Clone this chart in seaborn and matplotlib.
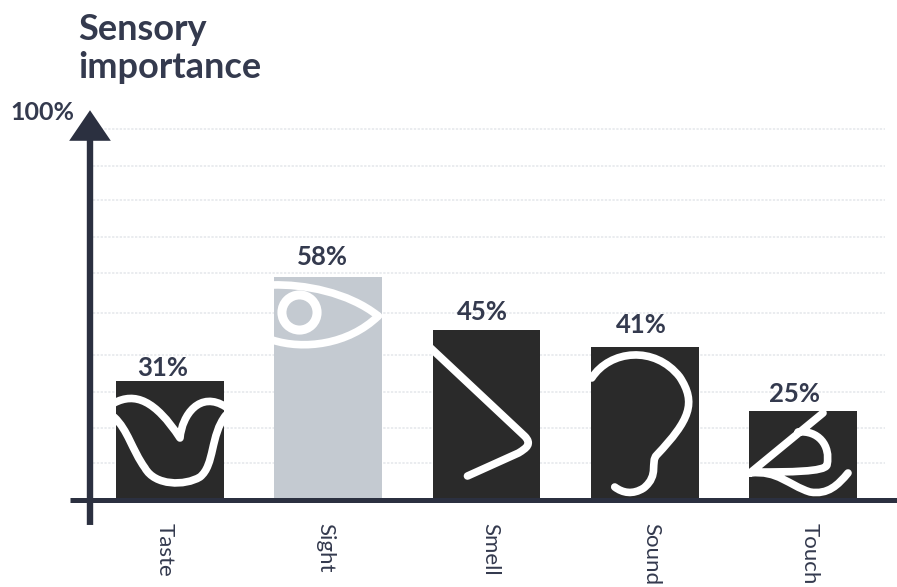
import matplotlib
matplotlib.use('Agg')
import matplotlib.pyplot as plt
import pandas as pd
import seaborn as sns
from matplotlib.patches import PathPatch
from matplotlib.path import Path

senses = ['Taste', 'Sight', 'Smell', 'Sound', 'Touch']
labels = ['31%', '58%', '45%', '41%', '25%']
# bar heights as they are printed, the scale is a bit loose in the original
heights = [31, 58, 44.3, 39.8, 23.2]
grid_levels = [96.6, 87, 78, 68.5, 59, 48.7, 37.8, 28, 18.8, 9.6]

INK = '#2a2a2a'
TEXT = '#343a4e'
AXIS = '#2b3040'
PALE = '#c4cad1'

# hand set text nudges in pixels, the labels are not centred in the original
value_dx = [-7, -6, -4, -3, -8]
value_gap = [5, 12, 10, 14, 9]
name_dx = [-5, -3, 4, 7, 7]

M, L, C = Path.MOVETO, Path.LINETO, Path.CURVE4

# pictograms, in pixels from the bar centre and the baseline
taste = [(M, -56, 97), (C, -35, 108), (C, -15, 100), (C, 10, 62),
         (C, 12, 85), (C, 30, 110), (C, 56, 93),
         (M, -56, 83), (C, -42, 70), (C, -38, 50), (C, -25, 32),
         (C, -15, 14), (C, 15, 14), (C, 30, 23),
         (C, 45, 35), (C, 40, 65), (C, 56, 85)]
smell = [(M, -58, 154), (L, 38, 64), (C, 46, 56), (C, 40, 52), (C, 32, 47), (L, -19, 24)]
sound = [(M, -53, 122), (C, -35, 150), (C, 10, 155), (C, 35, 123),
         (C, 52, 97), (C, 45, 80), (C, 12, 45),
         (C, 5, 38), (C, 15, 25), (C, -1, 12), (L, -1, 12), (C, -12, 5), (C, -22, 7), (C, -30, 13)]
touch = [(M, 20, 87), (L, -53, 27),
         (M, -5, 68), (C, 15, 70), (C, 28, 55), (C, 24, 35),
         (C, 22, 28), (C, -15, 28), (C, -45, 28),
         (M, -53, 27), (C, -25, 30), (C, -15, 15), (C, 7, 8),
         (C, 25, 5), (C, 35, 15), (C, 45, 27)]
eye_upper = [(M, -56, 215), (C, -25, 216), (C, 20, 208), (C, 50, 184)]
eye_lower = [(M, -56, 160), (C, -25, 150), (C, 20, 155), (C, 50, 184)]
icons = [[taste], [eye_upper, eye_lower], [smell], [sound], [touch]]

fig = plt.figure(figsize=(8.97, 5.87), dpi=100)
ax = fig.add_axes([90 / 897, 87 / 587, 807 / 897, 384 / 587])

plt.rcParams['font.family'] = ['Lato', 'DejaVu Sans']

df = pd.DataFrame({'sense': senses, 'height': heights})
sns.barplot(data=df, x='sense', y='height', hue='sense', palette=[INK, PALE, INK, INK, INK],
            width=0.68, legend=False, saturation=1, ax=ax, zorder=2)

x_min, x_max = -0.5055, 4.594
ax.set_xlim(x_min, x_max)
ax.set_ylim(0, 100)
sx = 158.25
sy = 3.84


def to_data(x0, dx, dy):
    return (x0 + dx / sx, dy / sy)


for y in grid_levels:
    ax.plot([x_min + 0.02, 4.52], [y, y], color='#c9cfd6', lw=1.1, ls=(0, (1.5, 1)), alpha=0.5, zorder=1)

for i, sense in enumerate(senses):
    ax.text(i + value_dx[i] / sx, heights[i] + value_gap[i] / sy, labels[i], ha='center', va='baseline',
            fontsize=18.5, fontweight='bold', color=TEXT)
    ax.text(i + name_dx[i] / sx, -6, sense, rotation=270, ha='center', va='top',
            fontsize=16, color=TEXT, clip_on=False)
    for shape in icons[i]:
        codes = [p[0] for p in shape]
        verts = [to_data(i, p[1], p[2]) for p in shape]
        patch = PathPatch(Path(verts, codes), fc='none', ec='white', lw=5.5, capstyle='round',
                          joinstyle='round', zorder=3)
        ax.add_patch(patch)
        patch.set_clip_path(ax.patches[i])

# iris of the eye on the pale bar
iris_x, iris_y = to_data(1, -29, 188)
ax.scatter([iris_x], [iris_y], s=640, facecolor=PALE, edgecolor='white', lw=6.5, zorder=3)

sns.despine(ax=ax, left=True, bottom=True)
ax.set_xticks([])
ax.set_yticks([])
ax.set_xlabel('')
ax.set_ylabel('')
ax.patch.set_alpha(0)

# axes with the arrow
ax.plot([x_min - 0.127, x_max], [0, 0], color=AXIS, lw=3.6, clip_on=False, zorder=4, solid_capstyle='butt')
ax.annotate('', xy=(x_min, 101.5), xytext=(x_min, -6.5), annotation_clip=False, zorder=4,
            arrowprops=dict(facecolor=AXIS, edgecolor=AXIS, width=4.6, headwidth=30, headlength=22, shrink=0, lw=0))

ax.text(78, 587 - 40, 'Sensory', transform=None, fontsize=26, color=TEXT, va='baseline', fontweight='bold')
ax.text(78, 587 - 78, 'importance', transform=None, fontsize=26, color=TEXT, va='baseline', fontweight='bold')
ax.text(10, 587 - 120, '100%', transform=None, fontsize=18, color=TEXT, va='baseline', fontweight='bold')

fig.savefig('out.png', dpi=100)
plt.close(fig)
